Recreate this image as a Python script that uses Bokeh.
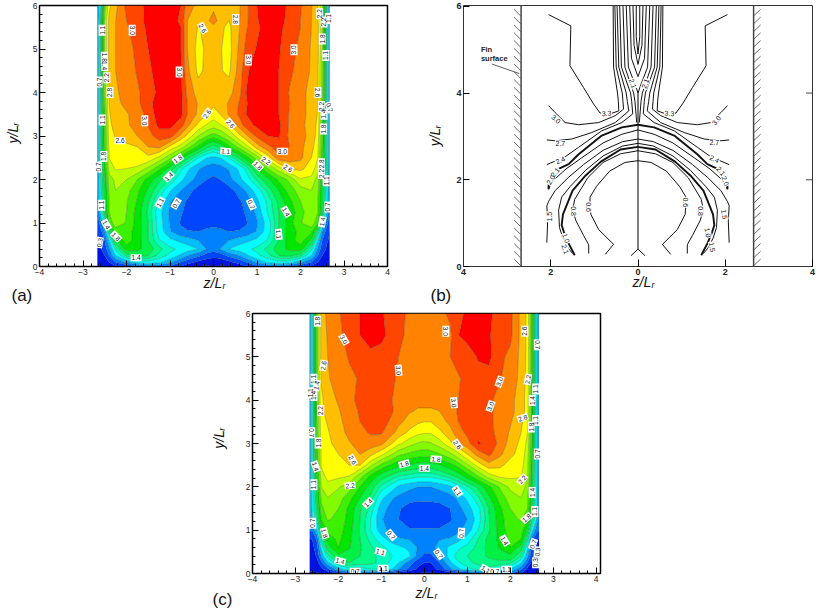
from bokeh.plotting import figure
from bokeh.models import FixedTicker, Column, Row
from bokeh.core.properties import value
from bokeh.embed import file_html
from bokeh.resources import INLINE
import numpy as np

FONT = "Liberation Sans"
levels = [0, 0.1, 0.3, 0.5, 0.7, 0.9, 1.1, 1.25, 1.4, 1.6, 1.8, 2.0, 2.2, 2.4, 2.6, 2.8, 3.0, 3.2, 3.6]
band_colors = ["#0000be", "#0014e1", "#0046ff", "#0082ff", "#00beff", "#00ffff", "#00ffbe", "#00fa82", "#00f046",
               "#00e600", "#3cf000", "#82fa00", "#beff00", "#ffff00", "#ffbe00", "#ff8200", "#ff4600", "#ff0000"]

z_cols = [-2.67, -2.6, -2.5, -2.4, -2.25, -2, -1.75, -1.5, -1.25, -1, -.75, -.6, -.35, -.15, 0,
          .15, .35, .6, .75, 1, 1.25, 1.5, 1.75, 2, 2.25, 2.4, 2.5, 2.6, 2.67]
y_rows_a = [0, .1, .25, .4, .6, .8, 1, 1.25, 1.5, 1.75, 2, 2.25, 2.5, 2.75, 3, 3.25, 3.5, 3.75, 4, 4.5, 5, 5.5, 5.65, 6]
y_rows_c = [0, .1, .25, .4, .6, .8, 1, 1.25, 1.5, 1.75, 2, 2.25, 2.5, 2.75, 3, 3.25, 3.5, 3.75, 4, 4.5, 5, 5.5, 6]

field_a = [
 [.12,.12,.15,.2,.25,.35,.45,.55,.55,.45,.3,.2,.1,.06,.06, .06,.1,.2,.3,.45,.55,.55,.45,.35,.25,.2,.15,.12,.12],
 [.15,.18,.22,.3,.5,.75,1.0,1.05,.95,.75,.5,.38,.25,.2,.18, .2,.25,.38,.5,.75,.95,1.05,1.0,.75,.5,.3,.22,.18,.15],
 [.2,.22,.3,.5,.9,1.3,1.45,1.4,1.2,1.05,.85,.7,.55,.4,.36, .38,.55,.7,.85,1.05,1.2,1.4,1.45,1.3,.9,.5,.3,.22,.2],
 [.25,.28,.4,.65,1.15,1.7,1.65,1.5,1.3,1.15,1.05,1.0,.9,.68,.6, .7,.9,1.0,1.05,1.15,1.3,1.5,1.65,1.7,1.15,.65,.4,.28,.25],
 [.28,.32,.5,.9,1.55,1.9,1.7,1.4,1.12,.95,.85,.8,.7,.62,.6, .62,.7,.8,.85,.95,1.12,1.4,1.7,1.9,1.55,.9,.5,.32,.28],
 [.3,.4,.7,1.3,1.85,1.88,1.72,1.4,1.02,.72,.55,.52,.5,.55,.55, .55,.5,.52,.55,.72,1.02,1.4,1.72,1.85,1.85,1.3,.7,.4,.3],
 [.35,.6,1.1,1.85,2.15,1.98,1.72,1.4,1.0,.68,.48,.42,.4,.42,.45, .42,.4,.42,.48,.68,1.0,1.4,1.72,1.98,2.15,1.85,1.1,.6,.35],
 [.5,.9,1.4,2.0,2.1,2.0,1.72,1.35,.98,.66,.52,.45,.38,.35,.35, .35,.38,.45,.52,.75,1.12,1.4,1.65,1.95,2.1,2.0,1.4,.9,.5],
 [.6,1.0,1.5,2.0,2.15,2.02,1.78,1.42,1.08,.72,.55,.48,.38,.33,.33, .33,.38,.48,.55,.85,1.15,1.45,1.75,2.0,2.15,2.0,1.5,1.0,.6],
 [.62,1.05,1.55,2.05,2.2,2.08,1.85,1.55,1.25,.92,.7,.58,.42,.36,.36, .36,.42,.58,.72,1.0,1.3,1.6,1.9,2.1,2.2,2.05,1.55,1.05,.62],
 [.65,1.1,1.6,2.1,2.25,2.2,2.0,1.72,1.45,1.25,.95,.8,.62,.5,.46, .5,.62,.85,1.0,1.28,1.55,1.85,2.05,2.38,2.35,2.1,1.6,1.1,.65],
 [.65,1.15,1.7,2.3,2.42,2.4,2.35,2.15,1.85,1.5,1.15,.95,.72,.6,.58, .6,.72,.95,1.15,1.6,2.0,2.3,2.62,2.65,2.5,2.3,1.7,1.15,.65],
 [.66,1.2,1.8,2.4,2.55,2.58,2.58,2.55,2.35,2.05,1.7,1.45,1.1,.9,.85, .9,1.1,1.45,1.7,2.1,2.5,2.95,2.92,2.85,2.6,2.4,1.8,1.2,.66],
 [.66,1.2,1.85,2.45,2.55,2.55,2.6,2.8,2.85,2.55,2.3,2.1,1.75,1.45,1.32, 1.45,1.75,2.1,2.3,2.7,2.95,3.1,3.0,2.85,2.68,2.45,1.85,1.2,.66],
 [.66,1.2,1.9,2.5,2.62,2.7,2.8,2.92,3.1,3.1,2.75,2.55,2.2,2.0,1.9, 2.0,2.2,2.55,2.75,3.05,3.2,3.22,2.95,2.85,2.75,2.5,1.9,1.2,.66],
 [.66,1.2,1.9,2.55,2.68,2.78,2.85,3.02,3.25,3.25,3.1,2.85,2.55,2.38,2.3, 2.38,2.55,2.9,3.1,3.25,3.32,3.25,2.97,2.85,2.72,2.55,1.9,1.2,.66],
 [.66,1.2,1.95,2.58,2.72,2.78,2.88,3.08,3.3,3.35,3.25,3.0,2.75,2.6,2.5, 2.6,2.82,3.05,3.2,3.35,3.35,3.2,2.98,2.85,2.75,2.58,1.95,1.2,.66],
 [.66,1.2,2.0,2.6,2.75,2.85,2.95,3.15,3.28,3.35,3.25,3.0,2.78,2.7,2.65, 2.7,2.82,3.02,3.18,3.35,3.35,3.2,3.0,2.85,2.75,2.6,2.0,1.2,.66],
 [.66,1.2,2.1,2.62,2.78,2.85,2.97,3.1,3.25,3.35,3.25,2.95,2.7,2.68,2.68, 2.68,2.72,2.95,3.2,3.32,3.35,3.2,2.98,2.85,2.75,2.6,2.05,1.2,.66],
 [.66,1.2,2.1,2.65,2.8,2.9,3.02,3.15,3.3,3.35,3.22,2.85,2.55,2.65,2.68, 2.62,2.55,2.9,3.15,3.35,3.35,3.2,3.05,2.9,2.78,2.62,2.1,1.2,.66],
 [.66,1.2,2.2,2.68,2.8,2.92,3.05,3.2,3.35,3.35,3.2,2.8,2.52,2.65,2.7, 2.62,2.52,2.85,3.05,3.22,3.35,3.22,3.08,2.95,2.78,2.65,2.2,1.2,.66],
 [.66,1.2,2.2,2.68,2.8,2.98,3.08,3.25,3.35,3.35,3.2,2.8,2.58,2.68,2.72, 2.65,2.55,2.8,2.98,3.15,3.32,3.25,3.12,3.0,2.8,2.65,2.2,1.2,.66],
 [.66,1.2,2.2,2.66,2.8,3.0,3.1,3.28,3.32,3.32,3.15,2.8,2.68,2.74,2.92, 2.7,2.6,2.8,2.96,3.18,3.34,3.27,3.14,3.0,2.8,2.62,2.2,1.2,.66],
 [.62,1.0,2.0,2.55,2.75,3.05,3.12,3.25,3.3,3.3,3.2,2.9,2.74,2.72,2.72, 2.72,2.7,2.78,2.95,3.2,3.35,3.3,3.15,3.02,2.82,2.6,2.2,1.2,.62],
]

field_c = [
 [.08,.08,.08,.1,.15,.3,.45,.55,.45,.3,.2,.15,.1,.08,.08, .08,.1,.15,.2,.3,.45,.6,.7,.55,.3,.2,.15,.1,.08],
 [.12,.13,.15,.22,.45,.8,1.05,1.0,1.1,1.1,.9,.7,.45,.25,.2, .2,.35,.65,.8,1.05,1.15,1.2,1.1,.9,.55,.25,.18,.12,.1],
 [.15,.17,.22,.45,.85,1.3,1.4,1.35,1.3,1.2,1.05,.9,.6,.38,.3, .3,.5,.85,1.05,1.2,1.3,1.35,1.35,1.3,.95,.5,.25,.2,.15],
 [.2,.22,.32,.7,1.2,1.55,1.5,1.4,1.3,1.2,1.1,1.05,.95,.6,.45, .45,.65,1.0,1.15,1.25,1.35,1.42,1.5,1.55,1.25,.75,.35,.25,.2],
 [.22,.25,.42,.95,1.5,1.8,1.62,1.42,1.28,1.15,1.02,.95,.85,.68,.6, .62,.78,.95,1.05,1.15,1.3,1.45,1.62,1.8,1.5,.95,.45,.28,.25],
 [.28,.32,.55,1.2,1.7,1.85,1.65,1.4,1.2,.98,.78,.72,.68,.65,.62, .63,.68,.72,.78,1.0,1.25,1.45,1.65,1.85,1.8,1.25,.6,.35,.28],
 [.5,.55,.9,1.5,1.85,1.9,1.68,1.38,1.1,.78,.62,.58,.52,.52,.52, .52,.52,.56,.62,.78,1.1,1.38,1.68,1.92,1.9,1.55,1.0,.6,.5],
 [.6,.9,1.25,1.8,2.02,1.95,1.72,1.4,1.1,.72,.58,.5,.4,.38,.38, .38,.4,.48,.55,.7,1.0,1.38,1.7,1.95,2.02,1.85,1.35,.95,.6],
 [.62,1.0,1.4,1.95,2.1,2.0,1.75,1.42,1.2,.78,.62,.52,.42,.4,.42, .42,.42,.5,.6,.8,1.05,1.4,1.75,2.0,2.1,2.0,1.45,1.0,.62],
 [.62,1.0,1.5,2.05,2.2,2.1,1.88,1.6,1.35,.95,.72,.65,.58,.55,.55, .55,.58,.62,.72,.95,1.22,1.55,1.88,2.1,2.2,2.05,1.55,1.0,.62],
 [.62,1.05,1.6,2.2,2.32,2.22,2.1,1.8,1.5,1.2,1.0,.85,.75,.7,.7, .7,.75,.85,1.0,1.2,1.45,1.75,2.02,2.25,2.3,2.15,1.6,1.05,.62],
 [.62,1.1,1.7,2.3,2.48,2.45,2.4,2.1,1.75,1.5,1.35,1.25,1.2,1.15,1.15, 1.15,1.22,1.35,1.45,1.7,2.0,2.3,2.45,2.45,2.42,2.2,1.65,1.05,.62],
 [.62,1.1,1.8,2.42,2.52,2.55,2.6,2.6,2.25,1.95,1.75,1.65,1.58,1.52,1.5, 1.52,1.58,1.72,1.85,2.15,2.48,2.72,2.65,2.52,2.48,2.25,1.7,1.05,.62],
 [.62,1.1,1.85,2.42,2.5,2.6,2.72,2.8,2.65,2.45,2.2,2.05,1.95,1.9,1.88, 1.9,1.98,2.15,2.3,2.6,2.88,3.05,2.85,2.65,2.52,2.3,1.75,1.05,.62],
 [.62,1.1,1.9,2.45,2.55,2.68,2.78,2.88,2.92,2.85,2.6,2.45,2.28,2.18,2.15, 2.18,2.3,2.55,2.72,2.92,3.22,3.15,2.95,2.72,2.55,2.35,1.8,1.05,.62],
 [.62,1.1,1.95,2.5,2.58,2.72,2.85,2.95,3.02,3.02,2.85,2.72,2.55,2.45,2.42, 2.42,2.55,2.72,2.88,3.05,3.15,3.1,2.9,2.78,2.6,2.4,1.8,1.05,.62],
 [.62,1.1,1.95,2.52,2.62,2.75,2.88,3.0,3.1,3.1,2.95,2.85,2.72,2.63,2.6, 2.6,2.7,2.85,2.98,3.1,3.15,3.05,2.92,2.82,2.65,2.45,1.85,1.05,.62],
 [.62,1.1,2.0,2.55,2.68,2.78,2.92,3.02,3.12,3.1,3.02,2.92,2.82,2.78,2.78, 2.78,2.8,2.9,3.0,3.12,3.15,3.05,2.92,2.85,2.72,2.5,1.85,1.05,.62],
 [.62,1.1,2.0,2.55,2.72,2.82,2.95,3.05,3.12,3.1,3.0,2.95,2.87,2.85,2.85, 2.85,2.85,2.9,2.98,3.1,3.15,3.05,2.92,2.85,2.72,2.5,1.85,1.05,.62],
 [.62,1.1,2.05,2.62,2.78,2.88,2.95,3.02,3.1,3.1,3.02,2.98,2.92,2.9,2.9, 2.9,2.9,2.93,2.97,3.05,3.12,3.12,3.02,2.9,2.75,2.52,1.9,1.05,.62],
 [.62,1.1,2.05,2.68,2.8,2.9,3.02,3.1,3.15,3.12,3.05,3.0,2.93,2.9,2.9, 2.9,2.9,3.0,3.05,3.08,3.22,3.25,3.05,2.95,2.75,2.55,1.9,1.05,.62],
 [.62,1.1,2.05,2.68,2.82,2.95,3.08,3.2,3.28,3.25,3.12,3.05,2.95,2.9,2.9, 2.9,2.9,2.95,3.18,3.28,3.28,3.22,3.1,3.05,2.75,2.55,1.9,1.05,.62],
 [.62,1.1,2.05,2.7,2.85,2.98,3.1,3.2,3.3,3.22,3.12,3.05,2.97,2.9,2.9, 2.9,2.92,3.05,3.1,3.25,3.3,3.25,3.1,3.05,2.75,2.55,1.9,1.05,.62],
]

labels_a = [("1.1",-2.56,5.43,90),("3.0",-1.87,5.43,-90),("2.6",-.25,5.48,-60),("2.8",.51,5.68,-90),("3.0",.8,4.75,-90),
 ("3.0",1.85,4.98,90),("3.0",-.79,4.47,-90),("1.8",-2.51,4.81,-90),("1.4",-2.5,4.62,-90),("2.2",-2.45,4.34,90),("0.7",-2.63,4.24,90),
 ("2.8",-2.38,4.0,90),("3.0",-1.58,3.35,-90),("2.6",-.15,3.51,55),("2.6",.39,3.28,-50),("1.1",-2.56,3.37,90),("2.6",-2.15,2.89,0),
 ("1.8",-2.52,2.53,90),("0.7",-2.65,2.29,90),("3.0",1.58,2.65,0),("2.2",1.21,2.43,-35),("1.8",1.02,2.32,-45),("2.6",1.71,2.26,-30),
 ("1.1",.28,2.65,-5),("1.8",-.82,2.47,35),("1.4",-1.03,2.07,45),("1.1",-1.23,1.47,60),("0.7",-.86,1.45,60),("0.7",.87,1.43,-65),
 ("1.4",1.67,1.26,-60),("1.1",1.5,.74,-85),("1.1",-2.57,1.41,90),("1.4",-2.46,.96,-60),("1.8",-2.24,.69,-45),("0.3",-2.62,.55,80),
 ("1.4",-1.78,.2,0),("1.4",2.5,1.03,80),("0.7",2.63,1.37,90),("2.2",2.44,5.81,90),("2.2",2.54,5.62,90),("1.1",2.64,5.7,90),
 ("1.8",2.5,5.23,90),("1.1",2.58,4.85,90),("2.6",2.4,4.0,-90),("2.2",2.48,3.68,90),("1.4",2.54,3.5,90),("0.7",2.67,3.66,-70),
 ("1.8",2.53,3.16,90),("2.8",2.48,2.36,90),("2.2",2.48,2.14,90),("1.1",2.59,1.97,90)]

labels_c = [("1.8",-2.49,5.82,90),("3.0",-1.87,5.4,-60),("3.0",.5,5.59,-90),("0.7",2.63,5.28,-90),("2.6",2.34,5.59,90),("2.6",-2.35,4.8,80),
 ("3.0",-.6,4.69,-85),("3.0",1.75,4.43,70),("1.1",-2.57,4.48,90),("1.4",-2.51,4.34,80),("1.1",-2.64,4.17,90),("1.4",-2.57,4.11,90),
 ("2.2",2.41,4.48,80),("3.0",.69,3.94,-85),("3.0",1.54,3.86,70),("2.2",-2.41,3.76,90),("1.1",2.59,4.26,90),("1.4",2.51,3.99,90),
 ("2.8",2.29,3.59,20),("1.1",2.59,3.53,90),("1.8",2.49,3.38,90),("0.7",-2.62,3.25,-90),("1.8",-2.47,3.01,90),("2.6",.77,2.97,-55),
 ("2.6",-1.67,2.62,-60),("1.8",-.47,2.53,15),("1.8",.27,2.64,-5),("1.4",0,2.43,0),("0.7",2.63,2.76,90),("1.4",-2.53,2.47,-70),
 ("1.1",-2.57,2.05,90),("2.2",-1.73,2.03,5),("2.2",2.28,2.17,50),("1.1",.77,1.9,-55),("1.4",2.51,1.87,90),("1.4",-1.31,1.63,45),
 ("1.1",2.57,1.43,90),("1.8",2.38,1.28,40),("0.7",-2.6,1.16,90),("1.8",-2.32,.93,-75),("0.7",-.77,.89,-50),("0.7",.86,.93,85),
 ("1.4",1.87,.76,-60),("0.7",2.53,.68,70),("1.1",-1.02,.5,-15),("0.7",.34,.45,-55),("0.3",2.63,.5,85),("0.3",2.59,.25,90),
 ("1.4",-1.96,.29,-15),("1.1",-.96,.12,0),("0.7",-1.61,.05,0),("1.1",1.43,.1,-30),("0.7",1.64,.05,0),("1.1",1.91,.1,0)]

# panel (b): right-half contour lines, drawn on both sides
thin_b = [
 [(.57,6.02),(.56,4.6),(.47,4.0),(.45,3.81),(.44,3.59),(.64,3.52),(.87,3.54),(1.02,3.75),(1.25,4.13),(1.56,4.63),(1.54,5.55),(2.05,5.81)],
 [(.53,6.02),(.5,4.6),(.36,4.0),(.345,3.81),(.33,3.63),(.52,3.48),(.9,3.32),(1.36,3.27),(1.67,3.32),(1.9,3.55),(2.05,3.71)],
 [(.48,6.02),(.44,4.6),(.27,4.0),(.245,3.81),(.21,3.59),(.52,3.32),(1.06,3.09),(1.52,2.94),(1.9,2.9),(2.09,2.92)],
 [(.42,6.02),(.38,4.6),(.17,4.0),(.145,3.81),(.12,3.52),(.37,3.32),(.83,3.13),(1.36,2.75),(1.67,2.53),(2.09,2.35)],
 [(.345,6.02),(.3,4.6),(.1,4.0),(.07,3.81),(.03,3.32)],
 [(.04,6.02),(.04,5.3),(0,4.9)],
 [(.115,6.02),(.09,5.1),(0,4.66)],
 [(.19,6.02),(.15,4.8),(0,4.38)],
 [(.27,6.02),(.22,4.6),(.05,4.15),(0,4.0)],
 [(0,3.15),(.37,3.05),(.8,2.85),(1.3,2.5),(1.65,2.25),(1.98,1.95),(2.05,1.78)],
 [(0,2.94),(.35,2.88),(.8,2.68),(1.25,2.35),(1.6,2.05),(1.9,1.75),(2.05,1.5),(2.09,1.4),(2.07,1.05),(2.09,.55)],
 [(0,2.84),(.35,2.78),(.8,2.55),(1.2,2.22),(1.55,1.85),(1.75,1.6),(1.82,1.3),(1.8,.9),(1.72,.65),(1.6,.42),(1.5,.3)],
 [(0,2.67),(.4,2.6),(.8,2.4),(1.15,2.05),(1.45,1.55),(1.5,1.3),(1.42,1.05),(1.25,.72),(1.13,.5),(1.13,.3)],
 [(0,2.44),(.3,2.4),(.65,2.2),(.95,1.85),(1.1,1.6),(1.1,1.45),(1.08,1.2),(.9,.85),(.56,.51),(.75,.28)],
 [(0,.4),(.16,.25)],
]
thick_b = [
 [(0,3.27),(.37,3.21),(.83,3.02),(1.36,2.59),(1.59,2.36),(1.82,2.25),(2.05,1.98),(2.05,1.78)],
 [(0,2.76),(.4,2.7),(.85,2.42),(1.2,2.1),(1.5,1.75),(1.72,1.2),(1.75,.95),(1.7,.8),(1.6,.55),(1.45,.26)],
]
center_z = [0, 0]
center_y = [4.0, .4]
labels_b = [("3.3",.72,3.53,-5),("3.0",1.8,3.37,50),("2.7",1.75,2.85,0),("2.4",1.75,2.48,-25),("2.1",1.9,2.2,-50),("2.0",2.0,1.97,-70),
 ("1.5",1.98,1.2,-80),("1.0",1.6,.78,-80),("1.5",1.7,.45,-80),("0.8",1.43,1.28,-90),("0.6",1.1,1.48,-90),("2.1",.17,4.22,70),
 ("3.3",-.72,3.53,5),("3.0",-1.88,3.4,-40),("2.7",-1.78,2.83,0),("2.4",-1.78,2.45,25),("2.1",-1.9,2.17,50),("2.0",-2.0,2.0,60),
 ("1.5",-2.02,1.15,90),("1.0",-1.65,.65,-70),("2.1",-1.67,.4,-70),("0.8",-1.48,1.28,-90),("0.6",-1.13,1.37,-90),("2.1",-.12,4.22,-70)]
fin_z = [-2.68, 2.65]
hatch_y = [round(.02 + .18 * i, 2) for i in range(33)]
x_ticks_b = [-4, -2, 0, 2, 4]
x_tick_text_b = {-4: "4", -2: "2", 0: "0", 2: "2", 4: "4"}


def base(w, h, ml, mr, mt, mb, x_end=4.0, y_end=6.0):
    p = figure(width=w, height=h, x_range=(-4, x_end), y_range=(0, y_end), output_backend="svg", toolbar_location=None,
               min_border_left=ml, min_border_right=mr, min_border_top=mt, min_border_bottom=mb)
    p.grid.visible = False
    p.outline_line_color = "black"
    p.outline_line_width = 1.5
    p.background_fill_color = "white"
    for ax in (p.xaxis[0], p.yaxis[0]):
        ax.major_label_text_font = FONT
        ax.major_label_text_font_size = "8.5px"
        ax.major_label_text_color = "#222222"
        ax.major_tick_in = 6
        ax.major_tick_out = 0
        ax.minor_tick_in = 3
        ax.minor_tick_out = 0
        ax.axis_line_color = "black"
        ax.major_label_standoff = 2
    p.xaxis[0].ticker = FixedTicker(ticks=list(range(-4, 5)), minor_ticks=[round(-4 + .2 * i, 1) for i in range(41)])
    p.yaxis[0].ticker = FixedTicker(ticks=list(range(0, 7)), minor_ticks=[round(.2 * i, 1) for i in range(31)])
    return p


def add_labels(p, labels, size="6.5px", box=True):
    t = [l[0] for l in labels]; x = [l[1] for l in labels]; y = [l[2] for l in labels]; a = [l[3] for l in labels]
    if box:
        p.rect(x, y, width=11, height=7, width_units="screen", height_units="screen", angle=a, angle_units="deg",
               fill_color="white", line_color=None)
    p.text(x, y, text=t, angle=a, angle_units="deg", text_font=value(FONT), text_font_size=size, text_color="#111111",
           text_align="center", text_baseline="middle")


def strip(w, h, overlap=0):
    s = figure(width=w, height=h, x_range=(0, w), y_range=(h, 0), output_backend="svg", toolbar_location=None,
               x_axis_location=None, y_axis_location=None, min_border=0, outline_line_color=None,
               background_fill_alpha=0, border_fill_alpha=0, margin=(-overlap, 0, 0, 0))
    s.grid.visible = False
    return s


def put(s, text, x, y, size, style="normal", angle=0):
    s.text([x], [y], text=[text], angle=angle, angle_units="deg", text_font=value(FONT), text_font_size=size,
           text_font_style=style, text_color="#111111", text_align="left", text_baseline="alphabetic")


def z_label(s, x, y):
    put(s, "z/L", x, y, "14px", "italic")
    put(s, "r", x + 19, y + 3, "9px", "italic")


def y_label(s, x, y):
    put(s, "y/L", x, y, "14px", "italic", 90)
    put(s, "r", x + 3, y - 19, "9px", "italic", 90)


def filled(p, ys, field):
    p.contour(z_cols, ys, np.array(field), levels, fill_color=band_colors, line_color="#1c3a1c", line_alpha=.55, line_width=.5)


# (a)
pa = base(393, 278, 12, 33, 5, 12)
filled(pa, y_rows_a, field_a)
add_labels(pa, labels_a)

# (b)
pb = base(375, 278, 16, 10, 5, 12, y_end=6.02)
pb.outline_line_width = 1
pb.outline_line_color = "#333333"
pb.xaxis[0].ticker = FixedTicker(ticks=x_ticks_b)
pb.xaxis[0].major_label_overrides = x_tick_text_b
pb.yaxis[0].ticker = FixedTicker(ticks=[0, 2, 4, 6])
pb.xaxis[0].major_tick_in = 7
pb.yaxis[0].major_tick_in = 6
for ax in (pb.xaxis[0], pb.yaxis[0]):
    ax.major_label_text_font_style = "bold"
    ax.major_label_text_font_size = "9px"
    ax.axis_line_color = "#333333"
for group, w in ((thin_b, 1.0), (thick_b, 1.9)):
    xs, ys = [], []
    for c in group:
        xs.append([q[0] for q in c]); ys.append([q[1] for q in c])
        xs.append([-q[0] for q in c]); ys.append([q[1] for q in c])
    pb.multi_line(xs, ys, line_color="#111111", line_width=w)
pb.line(center_z, center_y, line_color="#111111", line_width=1.1)
pb.segment(x0=[3.85, 3.85], y0=[2, 4], x1=[4.0, 4.0], y1=[2, 4], line_color="#444444", line_width=1)
pb.segment(x0=fin_z, y0=[0, 0], x1=fin_z, y1=[6.02, 6.02], line_color="#444444", line_width=1.5)
pb.segment(x0=[-2.84] * len(hatch_y), y0=[v + .15 for v in hatch_y], x1=[-2.69] * len(hatch_y), y1=hatch_y, line_color="#444444", line_width=.8)
pb.segment(x0=[2.65] * len(hatch_y), y0=hatch_y, x1=[2.81] * len(hatch_y), y1=[v + .15 for v in hatch_y], line_color="#444444", line_width=.8)
pb.segment(x0=[-3.35], y0=[4.67], x1=[-2.72], y1=[4.45], line_color="#333333", line_width=.8)
add_labels(pb, labels_b, size="7px")
pb.text([-3.6, -3.6], [5.0, 4.8], text=["Fin", "surface"], text_font=value(FONT), text_font_size="7.5px", text_font_style="bold",
        text_color="#222222", text_baseline="middle")

# (c)
pc = base(586, 275, 16, 222, 3, 12, x_end=4.1)
filled(pc, y_rows_c, field_c)
add_labels(pc, labels_c)

# text strips around the panels, in pixels relative to each strip
s1 = strip(27, 278)
y_label(s1, 12, 147)
s2 = strip(27, 278)
y_label(s2, 14, 150)
s3 = strip(822, 40, overlap=8)
put(s3, "(a)", 11, 25, "17px")
put(s3, "(b)", 430, 25, "17px")
z_label(s3, 203, 12)
z_label(s3, 632, 11)
s4 = strip(236, 275)
y_label(s4, 218, 143)
s5 = strip(822, 33, overlap=8)
put(s5, "(c)", 212, 22, "17px")
z_label(s5, 415, 15)

page = Column(children=[Row(children=[s1, pa, s2, pb], spacing=0), s3, Row(children=[s4, pc], spacing=0), s5], spacing=0)
open("out.html", "w").write(file_html(page, INLINE))
